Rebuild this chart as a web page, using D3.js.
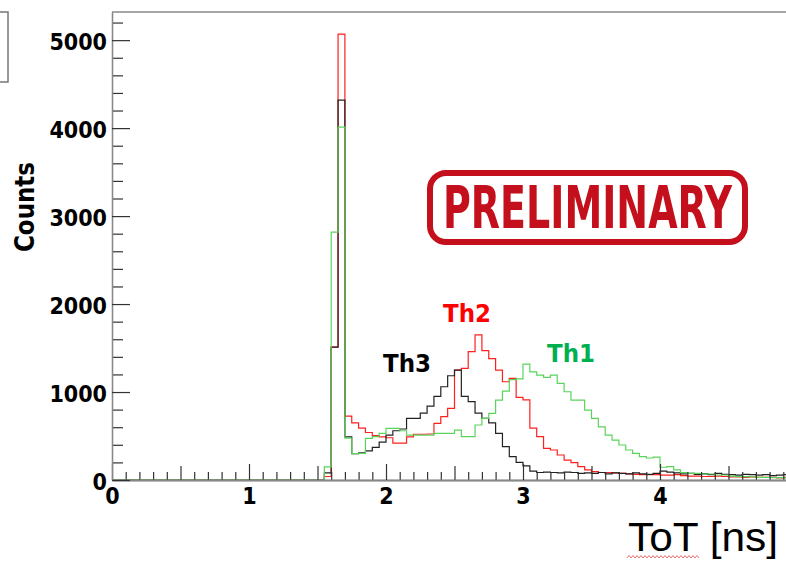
<!DOCTYPE html>
<html>
<head>
<meta charset="utf-8">
<script src="https://cdn.jsdelivr.net/npm/d3@7"></script>
<style>
  body { margin: 0; background: #fff; }
  svg { display: block; }
</style>
</head>
<body>
<div id="chart"></div>
<script>
// ToT histograms, 0.05 ns bins from 0 to 5 ns
const binWidth = 0.05
const xTicks = [0, 1, 2, 3, 4]
const yTicks = [0, 1000, 2000, 3000, 4000, 5000]

const th2 = [
  0, 0, 0, 0, 0, 0, 0, 0, 0, 0, 0, 0, 0, 0, 0, 0, 0, 0, 0, 0, 0, 0, 0, 0, 0, 0, 0, 0, 0, 0, 0,
  40, 1510, 5068, 727, 650, 590, 540, 505, 490,
  480, 420, 420, 490, 520, 520, 523, 644, 720, 814,
  1250, 1269, 1460, 1650, 1470, 1380, 1250, 1117, 1155, 940,
  910, 590, 492, 360, 341, 284, 227, 197, 151, 114,
  95, 85, 85, 80, 75, 70, 65, 60, 60, 60,
  55, 55, 60, 50, 45, 45, 40, 40, 45, 40,
  35, 35, 30, 35, 30, 30, 30, 25, 30, 25
]
const th3 = [
  0, 0, 0, 0, 0, 0, 0, 0, 0, 0, 0, 0, 0, 0, 0, 0, 0, 0, 0, 0, 0, 0, 0, 0, 0, 0, 0, 0, 0, 0, 0,
  80, 1511, 4318, 490, 300, 310, 330, 370, 430,
  510, 560, 580, 700, 700, 760, 840, 950, 1060, 1185,
  1250, 950, 890, 760, 700, 650, 530, 380, 265, 200,
  160, 100, 85, 90, 85, 80, 90, 85, 75, 80,
  75, 85, 70, 80, 75, 70, 80, 70, 65, 75,
  100, 90, 80, 70, 75, 65, 70, 60, 75, 65,
  60, 55, 65, 60, 55, 60, 50, 55, 60, 50
]
const th1 = [
  0, 0, 0, 0, 0, 0, 0, 0, 0, 0, 0, 0, 0, 0, 0, 0, 0, 0, 0, 0, 0, 0, 0, 0, 0, 0, 0, 0, 0, 0, 0,
  150, 2818, 4011, 477, 300, 303, 473, 492, 530,
  587, 587, 560, 511, 511, 511, 511, 530, 530, 530,
  568, 492, 492, 625, 700, 758, 909, 1010, 1140, 1150,
  1318, 1230, 1193, 1166, 1193, 1098, 1003, 909, 909, 795,
  700, 605, 511, 454, 398, 341, 303, 265, 250, 260,
  145, 151, 114, 83, 76, 76, 68, 68, 57, 57,
  45, 38, 38, 35, 30, 30, 28, 28, 25, 25
]

const width = 786
const height = 561
const tickFont = "'DejaVu Sans Condensed', 'DejaVu Sans', sans-serif"

const svg = d3
  .select('#chart')
  .append('svg')
  .attr('width', width)
  .attr('height', height)

const x = d3.scaleLinear().domain([0, 5]).range([112, 797])
const y = d3.scaleLinear().domain([0, 5320]).range([480, 12])

// stat box remnant at the left edge
svg
  .append('rect')
  .attr('x', -6)
  .attr('y', 12)
  .attr('width', 14)
  .attr('height', 70)
  .attr('fill', '#fff')
  .attr('stroke', '#777')
  .attr('stroke-width', 1.5)

// frame top
svg
  .append('line')
  .attr('x1', x(0))
  .attr('x2', x(5))
  .attr('y1', y.range()[1])
  .attr('y2', y.range()[1])
  .attr('stroke', '#888')
  .attr('stroke-width', 1.3)

// histograms (red under black under green)
const line = d3
  .line()
  .x(d => x(d[0]))
  .y(d => y(d[1]))
  .curve(d3.curveStepAfter)

const series = [
  { name: 'Th2', values: th2, color: '#ff1f1f' },
  { name: 'Th3', values: th3, color: '#222' },
  { name: 'Th1', values: th1, color: '#5ad45a' }
]

series.forEach(s => {
  const pts = s.values.map((v, i) => [i * binWidth, v])
  pts.push([s.values.length * binWidth, s.values[s.values.length - 1]])
  svg
    .append('path')
    .datum(pts)
    .attr('fill', 'none')
    .attr('stroke', s.color)
    .attr('stroke-width', 1.2)
    .attr('d', line)
})

// x axis: ticks point up into the plot
const xMinor = d3.range(0, 50).map(d => d / 10).filter(d => d * 2 % 1 !== 0)
const xHalf = [0.5, 1.5, 2.5, 3.5, 4.5]

function styleAxis(g) {
  g.select('.domain').attr('stroke', '#888').attr('stroke-width', 1.3)
  g.selectAll('.tick line').attr('stroke', '#333').attr('stroke-width', 1.2)
}

svg
  .append('g')
  .attr('transform', `translate(0,${y(0)})`)
  .call(d3.axisBottom(x).tickValues(xMinor).tickSize(-8).tickSizeOuter(0).tickFormat(''))
  .call(styleAxis)
svg
  .append('g')
  .attr('transform', `translate(0,${y(0)})`)
  .call(d3.axisBottom(x).tickValues(xHalf).tickSize(-14).tickSizeOuter(0).tickFormat(''))
  .call(styleAxis)
svg
  .append('g')
  .attr('transform', `translate(0,${y(0)})`)
  .call(
    d3
      .axisBottom(x)
      .tickValues(xTicks)
      .tickSize(-16)
      .tickSizeOuter(0)
      .tickPadding(8)
      .tickFormat(d3.format('d'))
  )
  .call(styleAxis)
  .call(g =>
    g
      .selectAll('text')
      .attr('font-family', tickFont)
      .attr('font-weight', 'bold')
      .attr('font-size', 23)
      .attr('fill', '#000')
  )

// y axis: ticks point right into the plot
const yMinor = d3.range(0, 5400, 200).filter(d => d % 1000 !== 0)

svg
  .append('g')
  .attr('transform', `translate(${x(0)},0)`)
  .call(d3.axisLeft(y).tickValues(yMinor).tickSize(-11).tickSizeOuter(0).tickFormat(''))
  .call(styleAxis)
svg
  .append('g')
  .attr('transform', `translate(${x(0)},0)`)
  .call(
    d3
      .axisLeft(y)
      .tickValues(yTicks)
      .tickSize(-18)
      .tickSizeOuter(0)
      .tickPadding(5)
      .tickFormat(d3.format('d'))
  )
  .call(styleAxis)
  .call(g =>
    g
      .selectAll('text')
      .attr('font-family', tickFont)
      .attr('font-weight', 'bold')
      .attr('font-size', 23)
      .attr('dy', '0.42em')
      .attr('fill', '#000')
  )

// axis titles
svg
  .append('text')
  .attr('transform', 'translate(34,207) rotate(-90)')
  .attr('text-anchor', 'middle')
  .attr('font-family', tickFont)
  .attr('font-weight', 'bold')
  .attr('font-size', 26)
  .attr('textLength', 90)
  .attr('lengthAdjust', 'spacingAndGlyphs')
  .text('Counts')

svg
  .append('text')
  .attr('x', 628)
  .attr('y', 551)
  .attr('font-family', "'Liberation Sans', Arial, sans-serif")
  .attr('font-size', 40)
  .attr('textLength', 150)
  .attr('lengthAdjust', 'spacingAndGlyphs')
  .attr('fill', '#000')
  .text('ToT [ns]')

// spell-check squiggle under "ToT"
const squiggle = d3.range(627, 701, 2).map((px, i) => [px, i % 2 ? 555.5 : 558])
svg
  .append('path')
  .attr('d', d3.line()(squiggle))
  .attr('fill', 'none')
  .attr('stroke', '#e05050')
  .attr('stroke-width', 0.8)

// series labels
const labels = [
  { text: 'Th3', x: 383, y: 372, color: '#000' },
  { text: 'Th2', x: 443, y: 322, color: '#ff0000' },
  { text: 'Th1', x: 547, y: 362, color: '#00b050' }
]
labels.forEach(l => {
  svg
    .append('text')
    .attr('x', l.x)
    .attr('y', l.y)
    .attr('font-family', "'DejaVu Sans', sans-serif")
    .attr('font-weight', 'bold')
    .attr('font-size', 25)
    .attr('textLength', 48)
    .attr('lengthAdjust', 'spacingAndGlyphs')
    .attr('fill', l.color)
    .text(l.text)
})

// PRELIMINARY stamp
const stampColor = '#c4101c'
svg
  .append('rect')
  .attr('x', 430)
  .attr('y', 173)
  .attr('width', 315)
  .attr('height', 69)
  .attr('rx', 16)
  .attr('fill', 'none')
  .attr('stroke', stampColor)
  .attr('stroke-width', 6)

svg
  .append('text')
  .attr('transform', 'translate(443,228) scale(1,1.38)')
  .attr('font-family', tickFont)
  .attr('font-weight', 'bold')
  .attr('font-size', 42)
  .attr('textLength', 289)
  .attr('lengthAdjust', 'spacingAndGlyphs')
  .attr('fill', stampColor)
  .text('PRELIMINARY')
</script>
</body>
</html>
